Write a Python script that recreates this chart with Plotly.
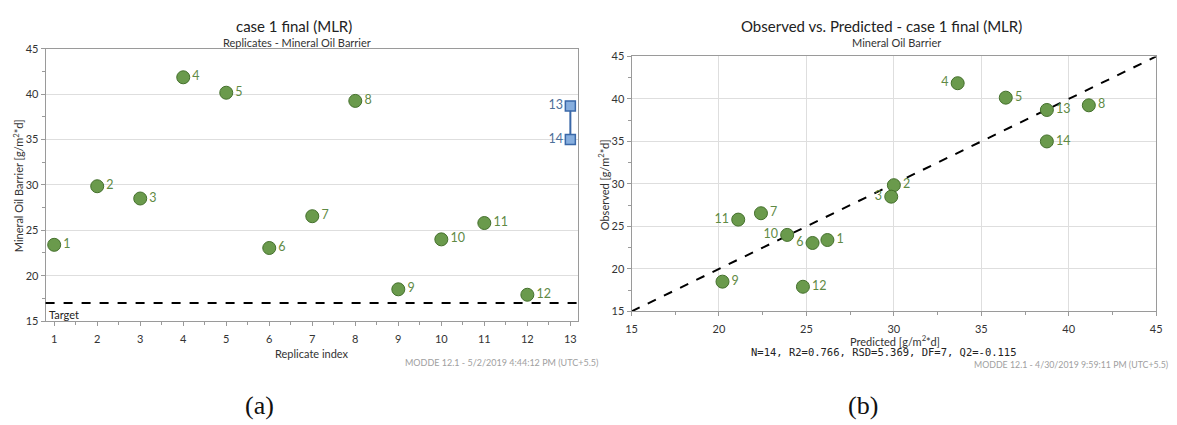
import plotly.graph_objects as go

# ---- data -------------------------------------------------------------
run_labels = ["1", "2", "3", "4", "5", "6", "7", "8", "9", "10", "11", "12", "13", "14"]
replicate_index = [1, 2, 3, 4, 5, 6, 7, 8, 9, 10, 11, 12, 13, 13]
observed = [23.4, 29.85, 28.5, 41.85, 40.15, 23.05, 26.55, 39.25, 18.5, 24.0, 25.8, 17.9, 38.7, 35.0]
predicted = [26.2, 30.0, 29.85, 33.65, 36.4, 25.35, 22.4, 41.15, 20.2, 23.9, 21.1, 24.8, 38.75, 38.75]
target_value = 17
diagonal = [15, 45]
x_ticks_left = list(range(1, 14))

# label side for each run on the observed-vs-predicted panel
obs_pred_text_pos = ["middle right", "middle right", "middle left", "middle left", "middle right",
                     "middle left", "middle right", "middle right", "middle right", "middle left",
                     "middle left", "middle right", "middle right", "middle right"]

W, H = 1177, 425
GREEN_FILL = "#6a9a4c"
GREEN_EDGE = "#44702c"
GREEN_TEXT = "#5f8a45"
BLUE_FILL = "#86aede"
BLUE_EDGE = "#3a68a8"
BLUE_TEXT = "#4d7099"
FONT = "Lato"


def px_x(v):
    return v / W


def px_y(v):
    return 1 - v / H


fig = go.Figure()

# ---- left panel: replicates ---------------------------------------------
single = slice(0, 12)
fig.add_trace(go.Scatter(
    x=replicate_index[single], y=observed[single], text=run_labels[single],
    mode="markers+text", textposition="middle right",
    textfont=dict(family=FONT, size=12.5, color=GREEN_TEXT),
    marker=dict(size=13, color=GREEN_FILL, line=dict(color=GREEN_EDGE, width=1)),
    xaxis="x", yaxis="y", showlegend=False, cliponaxis=False))

rep = slice(12, 14)
fig.add_trace(go.Scatter(
    x=replicate_index[rep], y=observed[rep], text=run_labels[rep],
    mode="lines+markers+text", textposition="middle left",
    textfont=dict(family=FONT, size=12.5, color=BLUE_TEXT),
    line=dict(color=BLUE_EDGE, width=2),
    marker=dict(size=10, symbol="square", color=BLUE_FILL, line=dict(color=BLUE_EDGE, width=1.5)),
    xaxis="x", yaxis="y", showlegend=False, cliponaxis=False))

fig.add_shape(type="line", xref="x domain", yref="y", x0=0, x1=1,
              y0=target_value, y1=target_value,
              line=dict(color="black", width=2, dash="dash"))

# ---- right panel: observed vs predicted ---------------------------------
fig.add_trace(go.Scatter(
    x=diagonal, y=diagonal, mode="lines",
    line=dict(color="black", width=2, dash="dash"),
    xaxis="x2", yaxis="y2", showlegend=False, hoverinfo="skip"))

fig.add_trace(go.Scatter(
    x=predicted, y=observed, text=run_labels,
    mode="markers+text", textposition=obs_pred_text_pos,
    textfont=dict(family=FONT, size=12.5, color=GREEN_TEXT),
    marker=dict(size=13, color=GREEN_FILL, line=dict(color=GREEN_EDGE, width=1)),
    xaxis="x2", yaxis="y2", showlegend=False, cliponaxis=False))

axis_common = dict(
    showline=True, mirror=True, linecolor="#9a9a9a", linewidth=1,
    ticks="outside", ticklen=4, tickcolor="#9a9a9a",
    tickfont=dict(family=FONT, size=11, color="#333333"),
    zeroline=False, fixedrange=True,
)
minor_ticks = dict(ticks="outside", ticklen=3, tickcolor="#9a9a9a")

fig.update_layout(
    width=W, height=H,
    margin=dict(l=0, r=0, t=0, b=0),
    paper_bgcolor="white", plot_bgcolor="white",
    font=dict(family=FONT, color="#333333"),
    xaxis=dict(axis_common, domain=[px_x(40), px_x(578)], range=[0.8, 13.18],
               tickvals=x_ticks_left, showgrid=False, ticklabelstandoff=4,
               minor=dict(minor_ticks, dtick=0.5, tick0=0.5)),
    yaxis=dict(axis_common, domain=[px_y(324), px_y(43)], range=[15, 45], dtick=5,
               showgrid=True, gridcolor="#dedede",
               minor=dict(minor_ticks, dtick=2.5)),
    xaxis2=dict(axis_common, anchor="y2", domain=[px_x(632), px_x(1162)], range=[15, 45], dtick=5,
                showgrid=True, gridcolor="#dedede", ticklabelstandoff=3,
                minor=dict(minor_ticks, dtick=2.5)),
    yaxis2=dict(axis_common, anchor="x2", domain=[px_y(314), px_y(51)], range=[15, 45], dtick=5,
                showgrid=True, gridcolor="#dedede",
                minor=dict(minor_ticks, dtick=2.5)),
)


def note(text, x, y, size=11, color="#333333", family=FONT, xanchor="center", yanchor="middle", angle=0):
    fig.add_annotation(text=text, x=px_x(x), y=px_y(y), xref="paper", yref="paper",
                       showarrow=False, xanchor=xanchor, yanchor=yanchor, textangle=angle,
                       font=dict(family=family, size=size, color=color))


# titles
note("case 1 final (MLR)", 291, 20, size=15, color="#222222")
note("Replicates - Mineral Oil Barrier", 294, 37, size=11)
note("Observed vs. Predicted - case 1 final (MLR)", 885, 20, size=15, color="#222222")
note("Mineral Oil Barrier", 900, 37, size=11)

# axis titles
note("Mineral Oil Barrier [g/m<sup>2</sup>*d]", 12, 184, size=11, angle=-90)
note("Replicate index", 309, 357, size=11)
note("Observed [g/m<sup>2</sup>*d]", 604, 183, size=11, angle=-90)
note("Predicted [g/m<sup>2</sup>*d]", 898, 344, size=11)

# target marker text
note("Target", 41, 308, size=11, color="#222222", xanchor="left", yanchor="top")

# model statistics and footers
note("N=14, R2=0.766, RSD=5.369, DF=7, Q2=-0.115", 887, 356, size=10.5,
     family="DejaVu Sans Mono", color="#222222")
note("MODDE 12.1 - 5/2/2019 4:44:12 PM (UTC+5.5)", 600, 367, size=9, color="#a0a0a0", xanchor="right")
note("MODDE 12.1 - 4/30/2019 9:59:11 PM (UTC+5.5)", 1176, 369, size=8.8, color="#a0a0a0", xanchor="right")

# panel letters
note("(a)", 256, 411, size=26, family="Liberation Serif", color="#111111")
note("(b)", 866, 411, size=26, family="Liberation Serif", color="#111111")

fig.write_html("out.html")
